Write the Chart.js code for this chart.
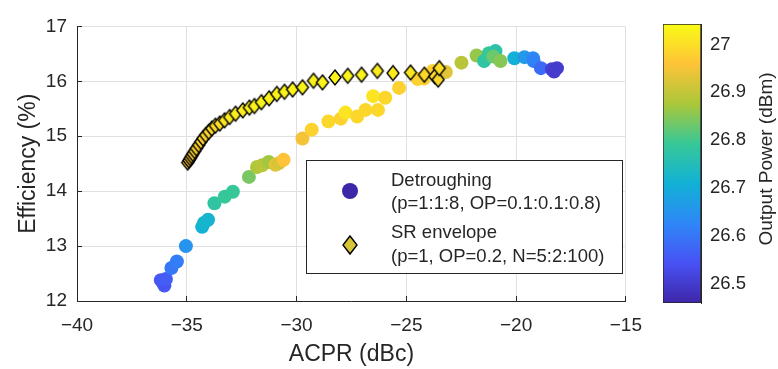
<!DOCTYPE html>
<html>
<head>
<meta charset="utf-8">
<script src="https://cdn.jsdelivr.net/npm/chart.js@4"></script>
<style>
  html,body{margin:0;padding:0;background:#fff;}
  #wrap{position:relative;width:778px;height:369px;overflow:hidden;}
  canvas{position:absolute;top:0;}
</style>
</head>
<body>
<div id="wrap">
  <canvas id="main" width="660" height="369" style="left:0"></canvas>
  <canvas id="cbar" width="138" height="369" style="left:640px"></canvas>
</div>
<script>
// Detroughing (circles): ACPR, efficiency, output power
const detX = [-36.02,-36.10,-36.18,-35.95,-35.70,-35.45,-35.04,-34.30,-34.22,-34.03,-33.74,-33.27,-32.90,-32.17,-31.80,-31.57,-31.27,-30.96,-30.80,-30.59,
  -29.73,-29.31,-28.55,-27.98,-27.77,-27.24,-26.86,-26.51,-26.29,-25.96,-25.33,-24.48,-24.20,-23.80,-23.20,-22.49,-21.80,-21.46,-21.24,-20.94,-21.04,-20.71,
  -20.08,-19.62,-19.23,-19.20,-18.87,-18.37,-18.14,-18.27];
const detY = [12.28,12.34,12.38,12.40,12.60,12.72,13.00,13.35,13.42,13.48,13.78,13.90,13.99,14.26,14.44,14.47,14.53,14.48,14.51,14.57,
  14.96,15.12,15.27,15.32,15.43,15.36,15.48,15.73,15.48,15.70,15.88,16.04,16.05,16.19,16.17,16.34,16.47,16.37,16.51,16.55,16.45,16.37,
  16.42,16.44,16.42,16.37,16.24,16.22,16.24,16.18];
const detP = [26.55,26.54,26.55,26.56,26.60,26.61,26.65,26.71,26.72,26.72,26.78,26.79,26.79,26.84,26.88,26.89,26.87,26.93,26.92,26.96,
  26.95,26.98,26.99,26.98,27.01,26.99,26.99,27.01,26.99,26.99,26.98,26.98,26.98,26.98,26.93,26.89,26.86,26.78,26.79,26.77,26.83,26.85,
  26.71,26.66,26.63,26.62,26.58,26.51,26.50,26.50];

// SR envelope (diamonds)
const srX = [-34.96,-34.90,-34.84,-34.78,-34.72,-34.64,-34.56,-34.46,-34.36,-34.26,-34.14,-34.00,-33.86,-33.70,-33.50,-33.28,-33.05,-32.78,-32.45,-32.15,
  -31.92,-31.60,-31.25,-30.90,-30.55,-30.18,-29.73,-29.23,-28.82,-28.25,-27.67,-27.04,-26.32,-25.61,-24.81,-24.18,-23.70,-23.55,-23.50];
const srY = [14.52,14.56,14.60,14.64,14.68,14.73,14.78,14.84,14.90,14.96,15.02,15.08,15.14,15.19,15.23,15.29,15.35,15.41,15.47,15.52,
  15.55,15.62,15.69,15.77,15.81,15.85,15.89,16.01,15.98,16.07,16.10,16.12,16.19,16.15,16.16,16.12,16.09,16.03,16.24];
const srP = [26.95,26.96,26.96,26.97,26.97,26.98,26.98,26.98,26.98,26.98,26.985,26.99,26.99,27.0,27.0,27.01,27.02,27.02,27.02,27.03,
  27.03,27.03,27.03,27.03,27.03,27.03,27.03,27.03,27.03,27.03,27.03,27.03,27.02,27.02,27.01,26.99,26.99,26.99,27.0];

const xTicks = [-40,-35,-30,-25,-20,-15];
const yTicks = [12,13,14,15,16,17];
const cbTicks = [26.5,26.6,26.7,26.8,26.9,27];
const cbMin = 26.459, cbMax = 27.043;

const PARULA = [[62,38,168],[72,82,244],[46,135,247],[18,177,214],[55,200,151],[171,199,57],[254,195,56],[249,251,21]];
function parula(t){
  t = Math.max(0, Math.min(1, t));
  const f = t*(PARULA.length-1), i = Math.min(Math.floor(f), PARULA.length-2), u = f-i;
  const a = PARULA[i], b = PARULA[i+1];
  return 'rgb(' + a.map((v,k)=>Math.round(v+(b[k]-v)*u)).join(',') + ')';
}
const colorOf = (p)=>parula((p-cbMin)/(cbMax-cbMin));

const diaCache = {};
function diamond(color, w, h){
  const key = color+w+h;
  if(diaCache[key]) return diaCache[key];
  const c = document.createElement('canvas');
  c.width = w+4; c.height = h+4;
  const g = c.getContext('2d');
  g.beginPath();
  g.moveTo(c.width/2, 2); g.lineTo(c.width-2, c.height/2); g.lineTo(c.width/2, c.height-2); g.lineTo(2, c.height/2); g.closePath();
  g.fillStyle = color; g.fill();
  g.lineWidth = 1.4; g.strokeStyle = '#000'; g.stroke();
  return diaCache[key] = c;
}

const FONT = '"Liberation Sans", Arial, sans-serif';
const INK = '#262626';
const minus = (v)=>String(v).replace('-', '\u2212');

const legendBox = {
  id:'legendBox',
  afterDatasetsDraw(chart){
    const ctx = chart.ctx;
    ctx.save();
    ctx.fillStyle = '#fff'; ctx.strokeStyle = INK; ctx.lineWidth = 1;
    ctx.fillRect(306.5, 160.5, 316, 113); ctx.strokeRect(306.5, 160.5, 316, 113);
    ctx.beginPath(); ctx.arc(350, 191, 8, 0, Math.PI*2); ctx.fillStyle = parula(0); ctx.fill();
    const d = diamond(parula(0.79), 14, 18);
    ctx.drawImage(d, 350-d.width/2, 245-d.height/2);
    ctx.fillStyle = INK; ctx.font = '18.5px ' + FONT; ctx.textBaseline = 'middle'; ctx.textAlign = 'left';
    ctx.fillText('Detroughing', 391, 181);
    ctx.fillText('(p=1:1:8, OP=0.1:0.1:0.8)', 391, 204);
    ctx.fillText('SR envelope', 391, 233);
    ctx.fillText('(p=1, OP=0.2, N=5:2:100)', 391, 257);
    ctx.restore();
  }
};

new Chart(document.getElementById('main'), {
  type:'scatter',
  data:{ datasets:[
    { label:'Detroughing', order:2, data: detX.map((x,i)=>({x, y:detY[i]})),
      backgroundColor:(c)=>colorOf(detP[c.dataIndex]), borderWidth:0,
      pointRadius:7, pointHoverRadius:7 },
    { label:'SR envelope', order:1, data: srX.map((x,i)=>({x, y:srY[i]})),
      pointStyle:(c)=>diamond(colorOf(srP[c.dataIndex]), 12, 15),
      pointRadius:7, pointHoverRadius:7 }
  ]},
  options:{
    responsive:false, animation:false, devicePixelRatio:1,
    layout:{ padding:{ top:17, right:33, bottom:0, left:0 } },
    plugins:{ legend:{display:false}, tooltip:{enabled:false} },
    scales:{
      x:{ type:'linear', min:-40, max:-15,
        afterBuildTicks:(s)=>{ s.ticks = xTicks.map(v=>({value:v})); },
        afterFit:(s)=>{ s.height = 68; },
        grid:{ color:'#e0e0e0', tickColor:INK, tickLength:-5 },
        border:{ color:INK, width:1 },
        ticks:{ color:INK, font:{ family:FONT, size:19 }, padding:18, maxRotation:0, callback:minus },
        title:{ display:true, text:'ACPR (dBc)', color:INK, font:{ family:FONT, size:23 }, padding:{ top:0, bottom:1 } } },
      y:{ type:'linear', min:12, max:17,
        afterBuildTicks:(s)=>{ s.ticks = yTicks.map(v=>({value:v})); },
        afterFit:(s)=>{ s.width = 77; },
        grid:{ color:'#e0e0e0', tickColor:INK, tickLength:-5 },
        border:{ color:INK, width:1 },
        ticks:{ color:INK, font:{ family:FONT, size:19 }, padding:15 },
        title:{ display:true, text:'Efficiency (%)', color:INK, font:{ family:FONT, size:23 }, padding:{ top:15, bottom:0 } } }
    }
  },
  plugins:[legendBox]
});

const cbTitle = {
  id:'cbTitle',
  afterDraw(chart){
    const ctx = chart.ctx;
    ctx.save();
    ctx.translate(127, 159); ctx.rotate(-Math.PI/2);
    ctx.fillStyle = INK; ctx.font = '19px ' + FONT; ctx.textAlign = 'center'; ctx.textBaseline = 'middle';
    ctx.fillText('Output Power (dBm)', 0, 0);
    ctx.restore();
  }
};

new Chart(document.getElementById('cbar'), {
  type:'bar',
  data:{ labels:['cb'], datasets:[{ data:[[cbMin, cbMax]],
    backgroundColor:(c)=>{
      const a = c.chart.chartArea;
      if(!a) return parula(0.5);
      const g = c.chart.ctx.createLinearGradient(0, a.bottom, 0, a.top);
      PARULA.forEach((p,i)=>g.addColorStop(i/(PARULA.length-1), 'rgb('+p.join(',')+')'));
      return g;
    },
    borderColor:INK, borderWidth:1, borderSkipped:false, barPercentage:1, categoryPercentage:1 }] },
  options:{
    responsive:false, animation:false, devicePixelRatio:1,
    layout:{ padding:{ top:16, right:0, bottom:66, left:23 } },
    plugins:{ legend:{display:false}, tooltip:{enabled:false} },
    scales:{
      x:{ display:false },
      y:{ position:'right', min:cbMin, max:cbMax,
        afterBuildTicks:(s)=>{ s.ticks = cbTicks.map(v=>({value:v})); },
        afterFit:(s)=>{ s.width = 77; },
        grid:{ drawOnChartArea:false, tickColor:INK, tickLength:-4 },
        border:{ color:INK, width:1 },
        ticks:{ color:INK, font:{ family:FONT, size:18.5 }, padding:13, callback:(v)=>String(v) } }
    }
  },
  plugins:[cbTitle]
});
</script>
</body>
</html>
